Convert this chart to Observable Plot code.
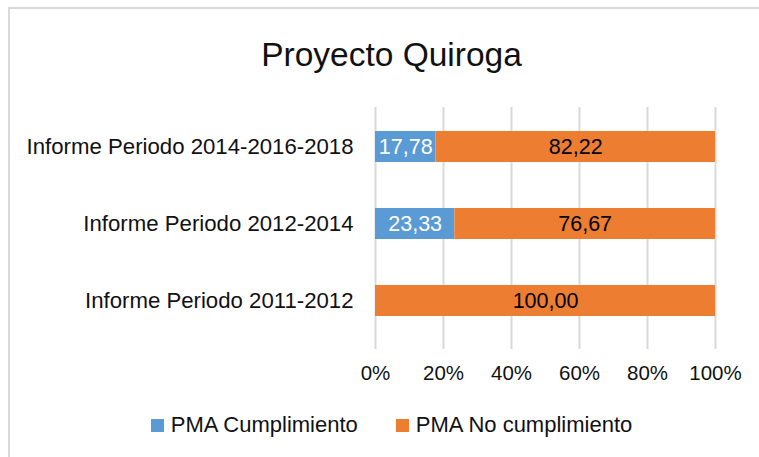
<!DOCTYPE html>
<html>
<head>
<meta charset="utf-8">
<script src="https://cdn.jsdelivr.net/npm/d3@7"></script>
<script src="https://cdn.jsdelivr.net/npm/@observablehq/plot@0.6"></script>
<style>
  html, body { margin: 0; padding: 0; background: #fff; overflow: hidden; width: 759px; height: 457px; }
  #frame {
    position: absolute; left: 8px; top: 7px;
    width: 763px; height: 460px;
    border-left: 2px solid #d9d9d9; border-top: 2px solid #d9d9d9;
    font-family: "Liberation Sans", Arial, sans-serif; color: #111;
  }
  #title { height: 91px; line-height: 91px; text-align: center; font-size: 33.5px; }
  #chart { height: 300px; }
  #legend { display: flex; justify-content: center; align-items: center; gap: 38px; font-size: 22px; height: 50px; }
  .item { display: flex; align-items: center; gap: 7px; }
  .sw { width: 13px; height: 13px; display: inline-block; }
</style>
</head>
<body>
<div id="frame">
  <div id="title">Proyecto Quiroga</div>
  <div id="chart"></div>
  <div id="legend"></div>
</div>
<script>
const categories = ["Informe Periodo 2014-2016-2018", "Informe Periodo 2012-2014", "Informe Periodo 2011-2012"];
const series = ["PMA Cumplimiento", "PMA No cumplimiento"];
const cumplimiento = [17.78, 23.33, 0];
const noCumplimiento = [82.22, 76.67, 100];
const xTicks = [0, 20, 40, 60, 80, 100];
const colors = ["#5B9BD5", "#ED7D31"];
const labelColors = ["#ffffff", "#000000"];

const rows = categories.flatMap((c, i) => [
  {cat: c, series: series[0], value: cumplimiento[i]},
  {cat: c, series: series[1], value: noCumplimiento[i]}
]);
const fmt = v => d3.format(".2f")(v).replace(".", ",");

const textMarks = series.map((s, k) =>
  Plot.textX(rows, Plot.stackX({
    x: "value", y: "cat",
    text: d => (d.series === s && d.value > 0) ? fmt(d.value) : null,
    fill: labelColors[k], fontSize: 21.5
  }))
);

const chart = Plot.plot({
  width: 749, height: 300,
  marginLeft: 365, marginRight: 44, marginTop: 7, marginBottom: 60,
  style: {fontFamily: "Liberation Sans, Arial, sans-serif", fontSize: "22px", color: "#111", background: "transparent"},
  x: {domain: [0, 100]},
  y: {domain: categories, paddingInner: 0.6, paddingOuter: 0.3},
  color: {domain: series, range: colors},
  marks: [
    Plot.ruleX(xTicks, {stroke: "#d9d9d9", strokeWidth: 2, insetBottom: -9}),
    Plot.barX(rows, Plot.stackX({x: "value", y: "cat", fill: "series"})),
    ...textMarks,
    Plot.axisX({ticks: xTicks, tickSize: 0, tickPadding: 25, fontSize: 20.5, tickFormat: d => d + "%", label: null}),
    Plot.axisY({tickSize: 0, tickPadding: 22, fontSize: 22.2, label: null})
  ]
});
document.getElementById("chart").appendChild(chart);

const legend = document.getElementById("legend");
series.forEach((s, i) => {
  const item = document.createElement("div");
  item.className = "item";
  const sw = document.createElement("span");
  sw.className = "sw";
  sw.style.background = colors[i];
  const t = document.createElement("span");
  t.textContent = s;
  item.appendChild(sw);
  item.appendChild(t);
  legend.appendChild(item);
});
</script>
</body>
</html>
